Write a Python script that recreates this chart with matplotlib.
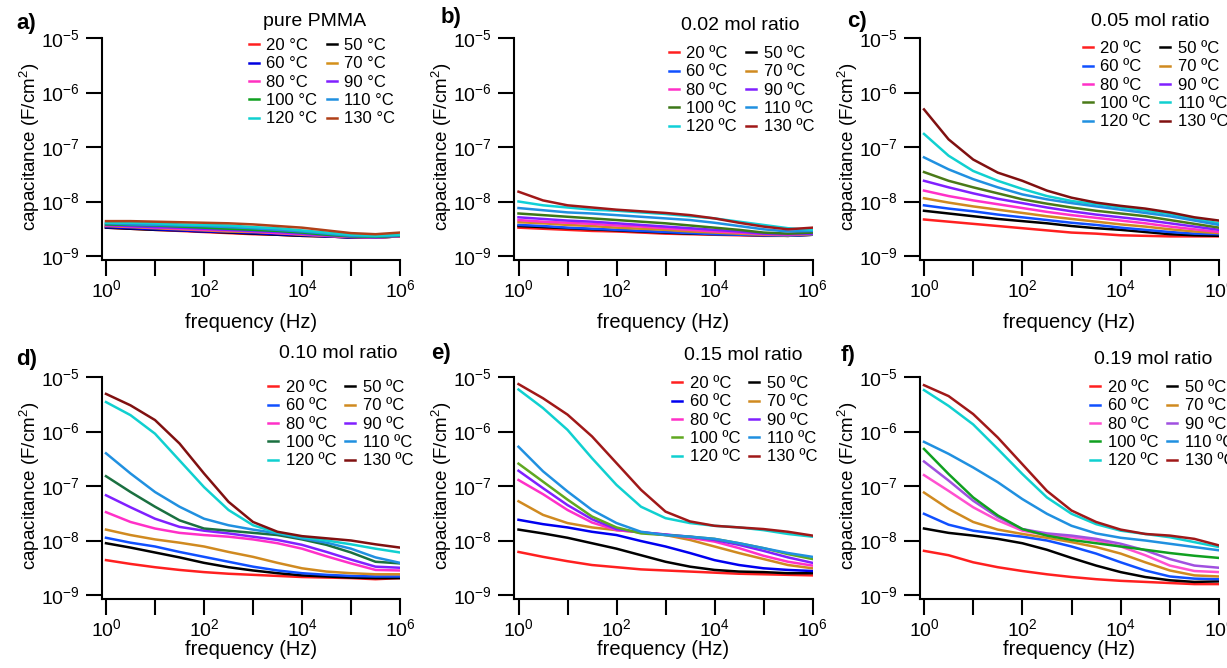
import numpy as np
import matplotlib
matplotlib.use('Agg')
import matplotlib.pyplot as plt

plt.rcParams['font.family'] = ['Liberation Sans', 'DejaVu Sans']
plt.rcParams['mathtext.fontset'] = 'custom'
plt.rcParams['mathtext.rm'] = 'Liberation Sans'
plt.rcParams['mathtext.it'] = 'Liberation Sans:italic'
plt.rcParams['mathtext.bf'] = 'Liberation Sans:bold'

# ---------------- data ----------------
log_freq = [0, 0.5, 1, 1.5, 2, 2.5, 3, 3.5, 4, 4.5, 5, 5.5, 6]   # log10(Hz)
temps = [20, 50, 60, 70, 80, 90, 100, 110, 120, 130]             # °C
titles = ['pure PMMA', '0.02 mol ratio', '0.05 mol ratio',
          '0.10 mol ratio', '0.15 mol ratio', '0.19 mol ratio']
panel_letters = ['a)', 'b)', 'c)', 'd)', 'e)', 'f)']

# log10 capacitance (F/cm^2), rows follow `temps`
pmma = [
    [-8.48, -8.50, -8.52, -8.54, -8.56, -8.58, -8.60, -8.61, -8.63, -8.64, -8.66, -8.66, -8.64],
    [-8.48, -8.50, -8.52, -8.53, -8.55, -8.57, -8.59, -8.61, -8.63, -8.64, -8.66, -8.66, -8.64],
    [-8.47, -8.49, -8.51, -8.53, -8.55, -8.56, -8.58, -8.60, -8.62, -8.64, -8.66, -8.66, -8.64],
    [-8.45, -8.47, -8.49, -8.51, -8.53, -8.55, -8.56, -8.58, -8.61, -8.63, -8.65, -8.66, -8.64],
    [-8.44, -8.46, -8.48, -8.50, -8.52, -8.53, -8.55, -8.58, -8.60, -8.63, -8.65, -8.66, -8.64],
    [-8.43, -8.45, -8.47, -8.48, -8.50, -8.52, -8.54, -8.56, -8.59, -8.62, -8.64, -8.66, -8.63],
    [-8.42, -8.43, -8.44, -8.46, -8.48, -8.50, -8.52, -8.54, -8.57, -8.61, -8.64, -8.65, -8.63],
    [-8.40, -8.42, -8.43, -8.44, -8.45, -8.47, -8.49, -8.52, -8.55, -8.59, -8.63, -8.64, -8.62],
    [-8.39, -8.39, -8.40, -8.42, -8.43, -8.44, -8.47, -8.49, -8.53, -8.57, -8.61, -8.63, -8.61],
    [-8.36, -8.36, -8.37, -8.38, -8.39, -8.40, -8.42, -8.45, -8.48, -8.53, -8.58, -8.60, -8.57],
]
ratio_002 = [
    [-8.48, -8.50, -8.52, -8.54, -8.55, -8.57, -8.59, -8.60, -8.61, -8.62, -8.63, -8.63, -8.61],
    [-8.45, -8.47, -8.49, -8.51, -8.53, -8.55, -8.57, -8.59, -8.60, -8.61, -8.62, -8.63, -8.61],
    [-8.43, -8.45, -8.48, -8.50, -8.52, -8.54, -8.56, -8.58, -8.60, -8.61, -8.62, -8.63, -8.61],
    [-8.38, -8.40, -8.43, -8.45, -8.48, -8.50, -8.52, -8.55, -8.57, -8.59, -8.61, -8.62, -8.60],
    [-8.34, -8.37, -8.39, -8.41, -8.44, -8.46, -8.49, -8.52, -8.55, -8.57, -8.60, -8.61, -8.59],
    [-8.29, -8.32, -8.35, -8.37, -8.40, -8.43, -8.46, -8.49, -8.52, -8.55, -8.59, -8.60, -8.59],
    [-8.22, -8.25, -8.28, -8.31, -8.34, -8.37, -8.40, -8.44, -8.48, -8.52, -8.57, -8.59, -8.57],
    [-8.12, -8.16, -8.20, -8.22, -8.25, -8.28, -8.31, -8.34, -8.39, -8.45, -8.51, -8.55, -8.54],
    [-8.00, -8.07, -8.11, -8.15, -8.17, -8.20, -8.23, -8.27, -8.31, -8.37, -8.43, -8.49, -8.52],
    [-7.82, -7.98, -8.07, -8.11, -8.15, -8.18, -8.21, -8.25, -8.31, -8.39, -8.46, -8.51, -8.48],
]
ratio_005 = [
    [-8.33, -8.37, -8.41, -8.45, -8.49, -8.53, -8.57, -8.59, -8.62, -8.63, -8.64, -8.64, -8.64],
    [-8.17, -8.22, -8.27, -8.32, -8.36, -8.40, -8.45, -8.49, -8.52, -8.56, -8.60, -8.62, -8.63],
    [-8.07, -8.13, -8.18, -8.24, -8.29, -8.34, -8.39, -8.43, -8.48, -8.52, -8.56, -8.59, -8.60],
    [-7.94, -8.02, -8.09, -8.15, -8.21, -8.27, -8.32, -8.37, -8.42, -8.46, -8.51, -8.55, -8.58],
    [-7.80, -7.90, -7.98, -8.05, -8.12, -8.19, -8.25, -8.30, -8.35, -8.40, -8.46, -8.51, -8.56],
    [-7.62, -7.74, -7.85, -7.95, -8.03, -8.11, -8.18, -8.24, -8.29, -8.34, -8.40, -8.46, -8.52],
    [-7.46, -7.62, -7.74, -7.85, -7.96, -8.04, -8.11, -8.17, -8.22, -8.27, -8.34, -8.41, -8.48],
    [-6.76, -7.16, -7.44, -7.62, -7.77, -7.90, -7.99, -8.05, -8.11, -8.17, -8.23, -8.32, -8.40],
    [-7.19, -7.41, -7.59, -7.74, -7.87, -7.96, -8.03, -8.09, -8.15, -8.21, -8.27, -8.35, -8.43],
    [-6.31, -6.86, -7.23, -7.47, -7.62, -7.80, -7.93, -8.02, -8.08, -8.13, -8.20, -8.29, -8.35],
]
ratio_010 = [
    [-8.36, -8.43, -8.49, -8.54, -8.58, -8.61, -8.63, -8.65, -8.67, -8.68, -8.69, -8.71, -8.69],
    [-8.05, -8.13, -8.22, -8.31, -8.41, -8.49, -8.55, -8.60, -8.64, -8.66, -8.68, -8.69, -8.69],
    [-7.95, -8.04, -8.11, -8.21, -8.30, -8.39, -8.48, -8.55, -8.60, -8.63, -8.65, -8.66, -8.66],
    [-7.80, -7.90, -7.98, -8.04, -8.11, -8.21, -8.30, -8.41, -8.51, -8.57, -8.60, -8.62, -8.62],
    [-7.48, -7.66, -7.78, -7.86, -7.90, -7.93, -7.98, -8.05, -8.15, -8.29, -8.42, -8.54, -8.55],
    [-7.17, -7.39, -7.60, -7.75, -7.82, -7.87, -7.93, -7.99, -8.08, -8.21, -8.35, -8.48, -8.50],
    [-6.82, -7.11, -7.38, -7.63, -7.78, -7.82, -7.86, -7.90, -7.98, -8.08, -8.22, -8.39, -8.42],
    [-6.40, -6.77, -7.11, -7.38, -7.60, -7.72, -7.80, -7.87, -7.96, -8.04, -8.15, -8.31, -8.41],
    [-5.46, -5.70, -6.04, -6.53, -7.02, -7.44, -7.72, -7.86, -7.94, -8.00, -8.07, -8.15, -8.22],
    [-5.31, -5.52, -5.79, -6.22, -6.77, -7.29, -7.66, -7.84, -7.92, -7.96, -8.00, -8.07, -8.13],
]
ratio_015 = [
    [-8.21, -8.30, -8.38, -8.45, -8.49, -8.53, -8.55, -8.57, -8.59, -8.61, -8.62, -8.63, -8.64],
    [-7.80, -7.87, -7.95, -8.05, -8.15, -8.27, -8.39, -8.48, -8.54, -8.57, -8.58, -8.60, -8.60],
    [-7.62, -7.70, -7.76, -7.84, -7.90, -8.01, -8.11, -8.23, -8.36, -8.45, -8.51, -8.54, -8.56],
    [-7.28, -7.53, -7.68, -7.76, -7.81, -7.85, -7.90, -7.99, -8.11, -8.23, -8.34, -8.45, -8.51],
    [-6.89, -7.15, -7.44, -7.67, -7.81, -7.85, -7.89, -7.95, -8.02, -8.14, -8.28, -8.39, -8.46],
    [-6.72, -7.04, -7.35, -7.61, -7.79, -7.85, -7.89, -7.93, -7.99, -8.08, -8.19, -8.31, -8.41],
    [-6.59, -6.92, -7.25, -7.56, -7.76, -7.87, -7.90, -7.93, -7.97, -8.05, -8.14, -8.25, -8.34],
    [-6.28, -6.73, -7.10, -7.44, -7.68, -7.84, -7.90, -7.93, -7.97, -8.05, -8.14, -8.23, -8.30],
    [-5.23, -5.57, -5.97, -6.49, -6.98, -7.38, -7.59, -7.68, -7.73, -7.76, -7.81, -7.88, -7.93],
    [-5.13, -5.39, -5.69, -6.09, -6.58, -7.07, -7.47, -7.65, -7.73, -7.76, -7.79, -7.84, -7.91],
]
ratio_019 = [
    [-8.19, -8.27, -8.40, -8.49, -8.56, -8.62, -8.67, -8.71, -8.74, -8.76, -8.78, -8.80, -8.80],
    [-7.78, -7.86, -7.91, -7.97, -8.05, -8.17, -8.32, -8.46, -8.58, -8.67, -8.73, -8.76, -8.75],
    [-7.51, -7.71, -7.82, -7.88, -7.93, -8.00, -8.11, -8.24, -8.40, -8.55, -8.66, -8.70, -8.71],
    [-7.12, -7.42, -7.66, -7.80, -7.88, -7.95, -8.03, -8.12, -8.24, -8.40, -8.55, -8.64, -8.66],
    [-6.80, -7.09, -7.39, -7.63, -7.82, -7.90, -7.94, -8.00, -8.11, -8.27, -8.46, -8.56, -8.58],
    [-6.55, -6.90, -7.27, -7.57, -7.79, -7.87, -7.91, -7.97, -8.06, -8.18, -8.34, -8.46, -8.50],
    [-6.32, -6.78, -7.21, -7.54, -7.79, -7.91, -7.99, -8.05, -8.11, -8.17, -8.23, -8.28, -8.32],
    [-6.19, -6.41, -6.66, -6.93, -7.24, -7.51, -7.73, -7.87, -7.95, -8.00, -8.06, -8.12, -8.18],
    [-5.24, -5.53, -5.87, -6.32, -6.78, -7.21, -7.51, -7.70, -7.82, -7.88, -7.94, -8.03, -8.12],
    [-5.15, -5.35, -5.68, -6.11, -6.60, -7.09, -7.45, -7.66, -7.80, -7.88, -7.91, -7.97, -8.09],
]
panels_data = [pmma, ratio_002, ratio_005, ratio_010, ratio_015, ratio_019]

# ---------------- styles ----------------
colors_a = ['#ff2020', '#000000', '#0000e0', '#d4901a', '#ff30c0', '#8020ff',
            '#10a020', '#2090e0', '#10d0d0', '#b04018']
colors_b = ['#ff2020', '#000000', '#1050ff', '#d08a20', '#ff30c8', '#8020ff',
            '#3c7818', '#2090e0', '#10d0d8', '#a01818']
colors_c = ['#ff2020', '#000000', '#1050ff', '#d08a20', '#ff30c8', '#8020ff',
            '#4a7a18', '#10d0d0', '#2090e0', '#801010']
colors_d = ['#ff2020', '#000000', '#1050ff', '#d08a20', '#ff30c8', '#8020ff',
            '#1a7040', '#2090e0', '#10d0d0', '#801010']
colors_e = ['#ff2020', '#000000', '#0000f0', '#d08a20', '#ff30c8', '#8020ff',
            '#60a820', '#2090e0', '#10d0d0', '#a01818']
colors_f = ['#ff2020', '#000000', '#1050ff', '#d08a20', '#ff50d0', '#a050e0',
            '#10a020', '#2090e0', '#10d0d0', '#a01818']
panel_colors = [colors_a, colors_b, colors_c, colors_d, colors_e, colors_f]
deg = ['°', 'º', 'º', 'º', 'º', 'º']

W, H = 1227, 668
fig = plt.figure(figsize=(W / 100, H / 100), dpi=100)

x0_px = [106, 518.5, 924]       # pixel of 10^0
x6_px = [400, 812.5, 1219]      # pixel of 10^6
ytop_px = [38, 377]             # pixel of 10^-5
dec_y = 54.5                    # px per decade (y)
xlo, ylo = -0.09, -9.07
xlabel_y = [-0.24, -0.185]

# legend anchors (fig px): (handle start x, top y), title center (x, y), letter (x, y)
leg_pos = [(249, 38), (669, 46), (1083, 41), (268, 380), (672, 376), (1090, 380)]
title_pos = [(315, 22), (740, 25), (1150, 22), (338, 354), (743, 356), (1153, 359)]
letter_pos = [(16, 23), (441, 18), (847, 21), (16, 359), (431, 353), (841, 355)]

for i in range(6):
    r, c = divmod(i, 3)
    dx = (x6_px[c] - x0_px[c]) / 6.0
    left = x0_px[c] + xlo * dx
    width = x6_px[c] - left
    top = ytop_px[r]
    height = (-5 - ylo) * dec_y
    ax = fig.add_axes([left / W, 1 - (top + height) / H, width / W, height / H])
    ax.set_xscale('log')
    ax.set_yscale('log')
    f = 10.0 ** np.array(log_freq)
    handles = {}
    for k, t in enumerate(temps):
        ln, = ax.plot(f, 10.0 ** np.array(panels_data[i][k]), color=panel_colors[i][k],
                      lw=1.8, solid_joinstyle='round')
        handles[t] = ln
    ax.set_xlim(10 ** xlo, 1e6)
    ax.set_ylim(10 ** ylo, 1e-5)
    for s in ['top', 'right']:
        ax.spines[s].set_visible(False)
    for s in ['left', 'bottom']:
        ax.spines[s].set_linewidth(1.5)
    ax.set_xticks(10.0 ** np.arange(0, 7))
    ax.set_xticklabels(['$10^{%d}$' % e if e % 2 == 0 else '' for e in range(7)])
    ax.set_yticks(10.0 ** np.arange(-9, -4))
    ax.set_yticklabels(['$10^{%d}$' % e for e in range(-9, -4)])
    ax.minorticks_off()
    ax.tick_params(axis='both', which='major', direction='out', length=11.5, width=1.5,
                   labelsize=14, pad=2.5)
    ax.tick_params(axis='y', pad=4.5)
    ax.set_xlabel('frequency (Hz)', fontsize=14.5)
    ax.set_ylabel('capacitance (F/cm$^2$)', fontsize=13.5)
    ax.xaxis.set_label_coords(0.5, xlabel_y[r])
    ax.yaxis.set_label_coords(-0.20, 0.51)

    order = [20, 60, 80, 100, 120, 50, 70, 90, 110, 130]
    hs = [handles[t] for t in order]
    labs = ['%d %sC' % (t, deg[i]) for t in order]
    lx, ly = leg_pos[i]
    ax.legend(hs, labs, ncol=2, loc='upper left', bbox_to_anchor=(lx / W, 1 - ly / H),
              bbox_transform=fig.transFigure, frameon=False, fontsize=12,
              handlelength=0.6, handletextpad=0.45, columnspacing=0.55,
              labelspacing=0.2, borderpad=0, borderaxespad=0)
    tx, ty = title_pos[i]
    fig.text(tx / W, 1 - ty / H, titles[i], ha='center', va='center', fontsize=14)
    lxp, lyp = letter_pos[i]
    fig.text(lxp / W, 1 - lyp / H, panel_letters[i], ha='left', va='center',
             fontsize=16, fontweight='bold')

fig.savefig('out.png', dpi=100)
